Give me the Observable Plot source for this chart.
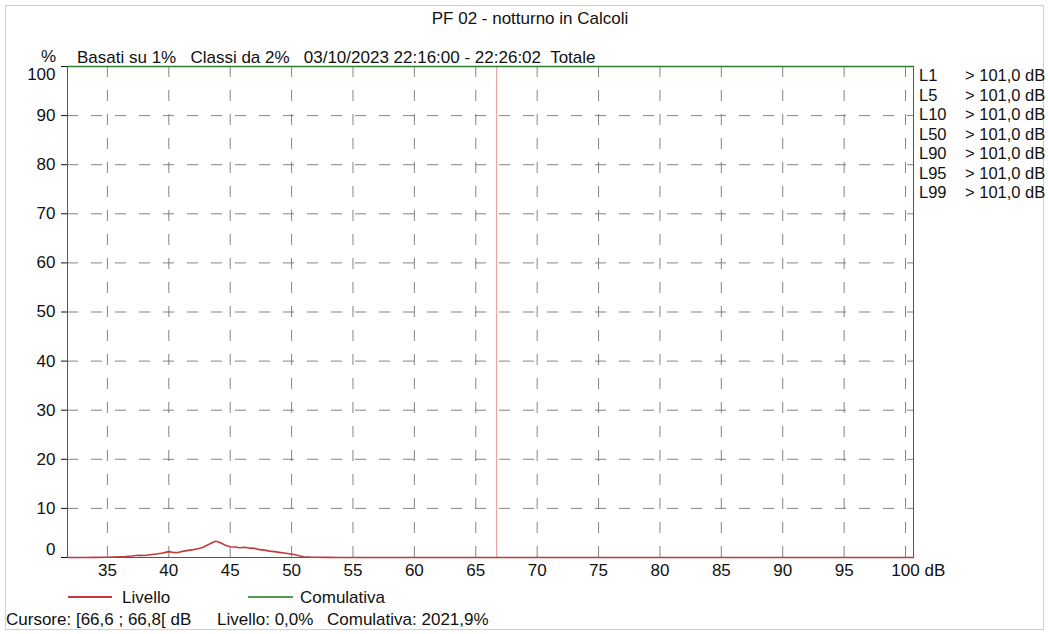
<!DOCTYPE html>
<html><head><meta charset="utf-8">
<script src="https://cdn.jsdelivr.net/npm/d3@7"></script>
<script src="https://cdn.jsdelivr.net/npm/@observablehq/plot@0.6"></script>
<style>
body{margin:0;background:#fff;font-family:"Liberation Sans",Arial,sans-serif;}
#wrap{position:relative;width:1048px;height:634px;overflow:hidden;background:#fff}
#chart{position:absolute;left:0;top:0}
.t{position:absolute;white-space:pre;font-size:17px;color:#111;line-height:1}
.sw{position:absolute;height:0;border-top-width:2px;border-top-style:solid}
#border{position:absolute;left:5px;top:5px;width:1037px;height:623px;border:1px solid #d0d0d0}
</style></head><body><div id="wrap"><div id="border"></div><div id="chart"></div></div>
<script>
// ---- data ----
const title = "PF 02 - notturno in Calcoli";
const header = "Basati su 1%   Classi da 2%   03/10/2023 22:16:00 - 22:26:02  Totale";
const yUnit = "%";
const xUnit = "dB";
const xTicks = [35, 40, 45, 50, 55, 60, 65, 70, 75, 80, 85, 90, 95, 100];
const yTicks = [0, 10, 20, 30, 40, 50, 60, 70, 80, 90, 100];
const xDomain = [31.75, 100.65];
const livelloDb  = [31.75, 33.0, 34.0, 35.0, 35.5, 36.0, 36.5, 37.0, 37.5, 38.0, 38.5, 39.0, 39.5, 40.0, 40.4, 40.8, 41.2, 41.6, 42.0, 42.4, 42.8, 43.2, 43.6, 43.8, 44.0, 44.3, 44.6, 45.0, 45.4, 45.8, 46.2, 46.6, 47.0, 47.4, 47.8, 48.2, 48.6, 49.0, 49.4, 49.8, 50.2, 50.6, 51.0, 51.5, 52.0, 53.0, 54.0, 100.65];
const livelloPct = [0, 0, 0.02, 0.05, 0.1, 0.15, 0.2, 0.3, 0.45, 0.4, 0.55, 0.7, 0.9, 1.2, 1.0, 1.05, 1.3, 1.45, 1.6, 1.8, 2.1, 2.6, 3.1, 3.3, 3.2, 2.9, 2.5, 2.2, 2.15, 2.0, 2.1, 1.9, 1.85, 1.6, 1.5, 1.3, 1.2, 1.05, 0.9, 0.75, 0.6, 0.35, 0.15, 0.08, 0.05, 0.02, 0, 0];
const cumulDb  = [31.75, 100.65];
const cumulPct = [100, 100];
const cursorDb = 66.7;
const lLabels = ["L1", "L5", "L10", "L50", "L90", "L95", "L99"];
const lValues = ["> 101,0 dB", "> 101,0 dB", "> 101,0 dB", "> 101,0 dB", "> 101,0 dB", "> 101,0 dB", "> 101,0 dB"];
const seriesNames = ["Livello", "Comulativa"];
const cursorParts = ["Cursore: [66,6 ; 66,8[ dB", "Livello: 0,0%", "Comulativa: 2021,9%"];

// ---- styles ----
const RED = "#c23b3b", GREEN = "#2f7f32", CURSOR = "#e9a3a3", GRID = "#6e6e6e", FRAME = "#555";

const livello = livelloDb.map((x, i) => ({x, y: livelloPct[i]}));
const cumul = cumulDb.map((x, i) => ({x, y: cumulPct[i]}));
const yMid = yTicks.filter(d => d > 0 && d < 100);

const plot = Plot.plot({
  width: 1048, height: 634,
  marginLeft: 67, marginRight: 135, marginTop: 66, marginBottom: 77,
  x: {domain: xDomain, axis: null},
  y: {domain: [0, 100], ticks: yTicks, tickSize: 6, tickFormat: () => "", label: null},
  style: {fontFamily: "'Liberation Sans', Arial, sans-serif", fontSize: "17px", color: "#111", background: "transparent", overflow: "visible"},
  marks: [
    Plot.ruleX(xTicks, {stroke: GRID, strokeOpacity: 0.85, strokeDasharray: "11,13"}),
    Plot.ruleY(yMid, {stroke: GRID, strokeOpacity: 0.85, strokeDasharray: "11,13"}),
    Plot.frame({stroke: FRAME}),
    Plot.ruleX([cursorDb], {stroke: CURSOR, strokeWidth: 1.2}),
    Plot.line(livello, {x: "x", y: "y", stroke: RED, strokeWidth: 1.6}),
    Plot.line(cumul, {x: "x", y: "y", stroke: GREEN, strokeWidth: 1.6}),
    Plot.text(xTicks, {x: d => d, frameAnchor: "bottom", dy: 18, fill: "#111"}),
    Plot.text([xUnit], {frameAnchor: "bottom-right", textAnchor: "start", dx: 11, dy: 18, text: d => d, fill: "#111"}),
    Plot.text(yMid, {y: d => d, frameAnchor: "left", dx: -12, textAnchor: "end", fill: "#111"}),
    Plot.text(yTicks.filter(d => d === 100), {y: d => d, frameAnchor: "left", dx: -12, dy: 8, textAnchor: "end", fill: "#111"}),
    Plot.text(yTicks.filter(d => d === 0), {y: d => d, frameAnchor: "left", dx: -12, dy: -8, textAnchor: "end", fill: "#111"})
  ]
});
document.getElementById("chart").appendChild(plot);

const wrap = document.getElementById("wrap");
function addText(txt, left, top, extra) {
  const d = document.createElement("div");
  d.className = "t";
  d.textContent = txt;
  d.style.left = left + "px";
  d.style.top = top + "px";
  if (extra) Object.assign(d.style, extra);
  wrap.appendChild(d);
  return d;
}
function addSwatch(color, left, top, width) {
  const d = document.createElement("div");
  d.className = "sw";
  d.style.left = left + "px"; d.style.top = top + "px"; d.style.width = width + "px";
  d.style.borderTopColor = color;
  wrap.appendChild(d);
}
addText(title, 530, 10, {transform: "translateX(-50%)"});
addText(yUnit, 41, 47.5);
addText(header, 77, 49);
lLabels.forEach((l, i) => {
  addText(l, 919, 67 + i * 19.5, {fontSize: "16.5px"});
  addText(lValues[i], 965, 67 + i * 19.5, {fontSize: "16.5px"});
});
addSwatch(RED, 68, 596, 44);
addText(seriesNames[0], 122, 589);
addSwatch("#4f9d4f", 248, 596, 45);
addText(seriesNames[1], 300, 589);
[6, 217, 327].forEach((x, i) => addText(cursorParts[i], x, 611));
</script>
</body></html>
